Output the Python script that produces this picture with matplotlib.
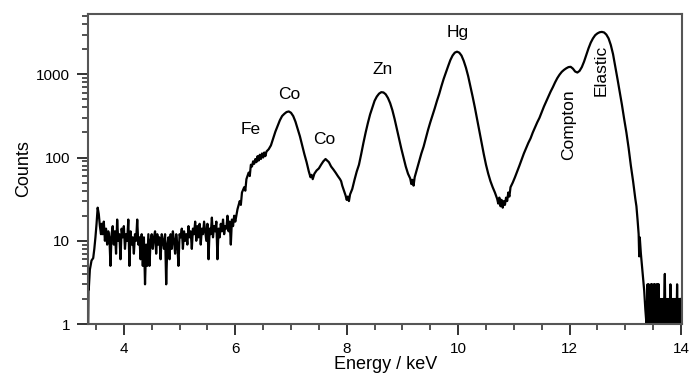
import numpy as np
import matplotlib.pyplot as plt
from matplotlib.ticker import LogLocator, MultipleLocator, NullFormatter, FixedLocator

plt.rcParams['font.family'] = ['Liberation Sans', 'DejaVu Sans']

# rising edge of the spectrum
edge_energy = [3.36, 3.365, 3.37, 3.39, 3.42, 3.45, 3.47, 3.49, 3.51, 3.53, 3.55, 3.57, 3.59]
edge_counts = [1, 2.8, 2.6, 4.5, 5.8, 6.2, 8, 11, 16, 25, 21, 15, 12]

# noisy background, 3.60 - 6.00 keV, 0.02 keV channels
bg_start = 3.60
bg_step = 0.02
bg_counts = [16, 12, 17, 10, 14, 9, 13, 11, 5, 12, 15, 9, 13, 7, 18, 10, 12, 6, 14, 11,
             15, 8, 12, 10, 18, 5, 13, 9, 11, 7, 12, 10, 18, 9, 11, 6, 12, 5, 11, 3,
             9, 5, 12, 5, 10, 12, 8, 11, 13, 7, 12, 9, 11, 6, 12, 10, 8, 12, 3, 9,
             11, 6, 12, 8, 13, 10, 7, 12, 9, 5, 12, 11, 14, 8, 13, 10, 12, 9, 15, 11,
             13, 8, 14, 12, 17, 10, 15, 11, 16, 9, 14, 12, 17, 13, 10, 16, 6, 14, 12, 19,
             11, 15, 13, 17, 6, 14, 11, 16, 13, 18, 12, 15, 14, 20, 13, 17, 9, 18, 15, 20,
             17]

# peaks region
peak_energy = [6.04, 6.08, 6.10, 6.12, 6.16, 6.18, 6.20, 6.24, 6.26, 6.28, 6.30, 6.32, 6.34,
               6.36, 6.38, 6.40, 6.42, 6.44, 6.46, 6.48, 6.50, 6.52, 6.54, 6.56, 6.60, 6.64,
               6.68, 6.72, 6.76, 6.80, 6.84, 6.88, 6.92, 6.96, 7.00, 7.04, 7.08, 7.12, 7.16,
               7.20, 7.24, 7.28, 7.32, 7.35, 7.37, 7.39, 7.42, 7.46, 7.50, 7.54, 7.58, 7.62,
               7.65, 7.68, 7.72, 7.76, 7.80, 7.84, 7.88, 7.90, 7.92, 7.95, 7.98, 8.00, 8.02,
               8.04, 8.06, 8.10, 8.14, 8.18, 8.22, 8.26, 8.30, 8.34, 8.38, 8.42, 8.46, 8.50,
               8.54, 8.58, 8.62, 8.66, 8.70, 8.74, 8.78, 8.82, 8.86, 8.90, 8.94, 8.98, 9.02,
               9.06, 9.10, 9.14, 9.16, 9.18, 9.20, 9.22, 9.26, 9.30, 9.34, 9.38, 9.42, 9.46,
               9.50, 9.54, 9.58, 9.62, 9.66, 9.70, 9.74, 9.78, 9.82, 9.86, 9.90, 9.94, 9.98,
               10.02, 10.06, 10.10, 10.14, 10.18, 10.22, 10.26, 10.30, 10.34, 10.38, 10.42,
               10.46, 10.50, 10.54, 10.58, 10.62, 10.66, 10.70, 10.72, 10.74, 10.76, 10.78,
               10.80, 10.82, 10.84, 10.86, 10.88, 10.90, 10.92, 10.94, 10.98, 11.02, 11.06,
               11.10, 11.14, 11.18, 11.22, 11.26, 11.30, 11.34, 11.38, 11.42, 11.46, 11.50,
               11.54, 11.58, 11.62, 11.66, 11.70, 11.74, 11.78, 11.82, 11.86, 11.90, 11.94,
               11.98, 12.02, 12.06, 12.10, 12.14, 12.18, 12.22, 12.26, 12.30, 12.34, 12.38,
               12.42, 12.46, 12.50, 12.54, 12.58, 12.62, 12.66, 12.70, 12.74, 12.78, 12.82,
               12.86, 12.90, 12.94, 12.98, 13.02, 13.06, 13.10, 13.14, 13.18, 13.20, 13.22,
               13.24, 13.25, 13.26, 13.28, 13.30, 13.32, 13.34, 13.36, 13.38]
peak_counts = [24, 30, 27, 38, 44, 40, 55, 66, 60, 82, 78, 90, 84,
               96, 88, 104, 92, 108, 96, 112, 100, 115, 104, 118, 126, 140,
               170, 205, 240, 280, 315, 335, 352, 358, 345, 315, 270, 220, 180,
               140, 110, 88, 68, 58, 62, 55, 64, 70, 74, 82, 90, 96,
               92, 88, 78, 72, 66, 60, 55, 52, 46, 40, 35, 31, 34,
               30, 36, 42, 54, 68, 82, 110, 150, 200, 260, 330, 400, 480,
               540, 585, 610, 605, 575, 520, 450, 370, 290, 220, 165, 128, 100,
               78, 64, 56, 48, 54, 46, 58, 72, 90, 112, 135, 170, 215,
               265, 320, 390, 480, 580, 720, 880, 1050, 1250, 1480, 1680, 1820, 1870,
               1820, 1680, 1450, 1200, 950, 720, 540, 400, 290, 210, 150,
               110, 82, 64, 52, 44, 38, 32, 28, 33, 26, 31,
               25, 30, 27, 33, 30, 38, 34, 44, 50, 58, 68,
               80, 95, 112, 130, 150, 170, 200, 230, 265, 300, 350,
               410, 470, 540, 620, 700, 800, 900, 990, 1070, 1130, 1180,
               1220, 1230, 1170, 1080, 1050, 1100, 1220, 1420, 1700, 2050, 2400,
               2700, 2950, 3100, 3200, 3230, 3180, 3000, 2700, 2250, 1750, 1250,
               880, 620, 430, 290, 200, 130, 80, 52, 32, 26, 18,
               12, 6.5, 11, 7, 5, 3.5, 2.5, 1.5, 1]

# noisy tail, 13.40 - 14.00 keV, 0.01 keV channels
tail_start = 13.40
tail_step = 0.01
tail_counts = [3, 1, 3, 1, 2, 1, 3, 1, 3, 2, 1, 3, 1, 3, 1, 2, 3, 1, 3, 1,
               3, 1, 1, 2, 1, 1, 2, 1, 2, 1, 2, 4, 1, 2, 1, 2, 1, 2, 1, 2,
               1, 3, 1, 2, 1, 2, 1, 2, 1, 2, 1, 2, 1, 3, 1, 2, 1, 2, 1, 1, 2]

labels = ['Fe', 'Co', 'Co', 'Zn', 'Hg', 'Compton', 'Elastic']
label_x = [6.28, 6.96, 7.60, 8.65, 10.0, 11.99, 12.57]
label_y = [215, 570, 165, 1130, 3150, 245, 1130]
label_rot = [0, 0, 0, 0, 0, 90, 90]

bg_energy = bg_start + bg_step * np.arange(len(bg_counts))
tail_energy = tail_start + tail_step * np.arange(len(tail_counts))
energy = np.concatenate([edge_energy, bg_energy, peak_energy, tail_energy])
counts = np.concatenate([edge_counts, bg_counts, peak_counts, tail_counts])

fig = plt.figure(figsize=(6.89, 3.89), dpi=100)
ax = fig.add_axes([0.128, 0.167, 0.862, 0.797])
ax.plot(energy, counts, color='black', lw=1.6)
ax.set_yscale('log')
ax.set_xlim(3.36, 14.02)
ax.set_ylim(1, 5300)

ax.xaxis.set_major_locator(FixedLocator([4, 6, 8, 10, 12, 14]))
ax.xaxis.set_minor_locator(MultipleLocator(0.5))
ax.yaxis.set_major_locator(FixedLocator([1, 10, 100, 1000]))
ax.yaxis.set_minor_locator(LogLocator(base=10, subs=np.arange(2, 10)))
ax.yaxis.set_minor_formatter(NullFormatter())
ax.set_yticklabels(['1', '10', '100', '1000'])

ax.tick_params(which='major', direction='out', length=8, width=1.4, labelsize=11, colors='#333333',
               labelcolor='black', pad=5)
ax.tick_params(which='minor', direction='out', length=4.5, width=1.2, colors='#333333')
for s in ax.spines.values():
    s.set_linewidth(1.5)
    s.set_color('#555555')

ax.set_xlabel('Energy / keV', fontsize=13, labelpad=0)
ax.set_ylabel('Counts', fontsize=13, labelpad=3)

for t, x, y, r in zip(labels, label_x, label_y, label_rot):
    ax.text(x, y, t, fontsize=12.5, rotation=r, ha='center', va='center')

fig.savefig('out.png', dpi=100)
